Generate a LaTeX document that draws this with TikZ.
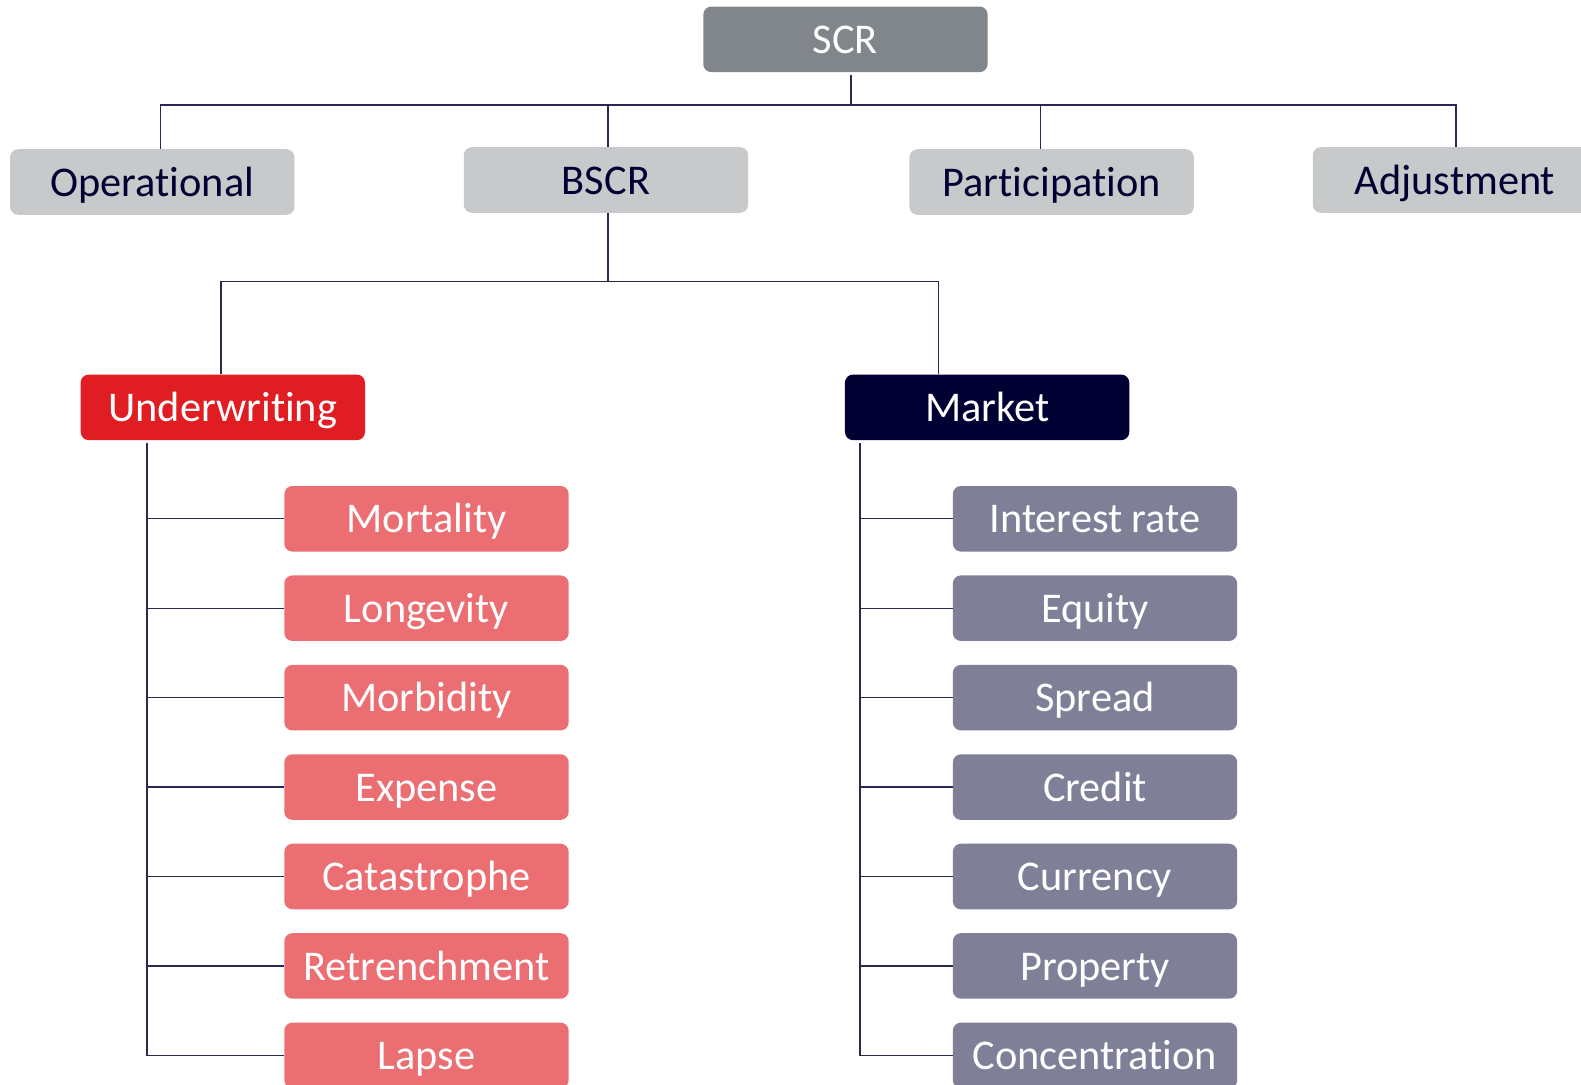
\documentclass[tikz,border=0pt]{standalone}
\usepackage{fontspec}
\setmainfont{Carlito}[Ligatures=NoCommon]
\definecolor{scrgray}{RGB}{128,134,139}
\definecolor{boxgray}{RGB}{200,201,203}
\definecolor{navy}{RGB}{0,0,51}
\definecolor{uwred}{RGB}{225,29,36}
\definecolor{uwpink}{RGB}{235,110,114}
\definecolor{mktgray}{RGB}{127,127,152}
\definecolor{linknavy}{RGB}{40,40,80}
\tikzset{
  box/.style={rounded corners=8pt, minimum width=282pt, minimum height=65pt,
    inner sep=0pt, text height=35pt, text depth=7pt,
    font=\fontsize{42}{50}\selectfont},
  scrbox/.style={box, fill=scrgray, text=white},
  topbox/.style={box, fill=boxgray, text=navy},
  uwbox/.style={box, fill=uwred, text=white},
  mktbox/.style={box, fill=navy, text=white},
  uwsub/.style={box, fill=uwpink, text=white},
  mktsub/.style={box, fill=mktgray, text=white},
  link/.style={draw=linknavy, line width=1.4pt}
}

\begin{document}
\begin{tikzpicture}[x=1pt, y=-1pt]
\clip (0,0) rectangle (1568,1076);
\fill[white] (0,0) rectangle (1568,1076);

\node[scrbox] (scr) at (838.5,39) {SCR};
\node[topbox] (op) at (151,180.5) {Operational};
\node[topbox] (bscr) at (601,178.5) {BSCR};
\node[topbox] (part) at (1043,180.5) {Participation};
\node[topbox] (adj) at (1443,178.5) {Adjustment};
\node[uwbox] (uw) at (221,404) {Underwriting};
\node[mktbox] (mkt) at (979,404) {Market};

\foreach \n/\t [count=\i] in {mort/Mortality, longev/Longevity, morb/Morbidity,
    expense/Expense, cat/Catastrophe, retrench/Retrenchment, lapse/Lapse}
  \node[uwsub] (\n) at (423,{514.5+88.7*(\i-1)}) {\t};
\foreach \n/\t [count=\i] in {ir/Interest rate, equity/Equity, spread/Spread,
    credit/Credit, currency/Currency, property/Property, conc/Concentration}
  \node[mktsub] (\n) at (1086,{514.5+88.7*(\i-1)}) {\t};

\coordinate (topbus) at (844,104);
\coordinate (bscrbus) at (603,279);
\draw[link] ([yshift=-3pt]scr.south -| topbus) -- (topbus);
\draw[link] ([xshift=8pt]op.north) |- (topbus) -| ([xshift=1pt]adj.north);
\draw[link] ([xshift=2pt]bscr.north) -- ++(0,-42);
\draw[link] ([xshift=-11pt]part.north) -- ++(0,-44);
\draw[link] ([xshift=2pt]bscr.south) -- (bscrbus);
\draw[link] ([xshift=-2pt]uw.north) |- (bscrbus) -| ([xshift=-48pt]mkt.north);

\foreach \n in {mort, longev, morb, expense, cat, retrench, lapse}
  \draw[link] ([xshift=66pt, yshift=-3pt]uw.south west) |- (\n.west);
\foreach \n in {ir, equity, spread, credit, currency, property, conc}
  \draw[link] ([xshift=15pt, yshift=-3pt]mkt.south west) |- (\n.west);
\end{tikzpicture}
\end{document}
